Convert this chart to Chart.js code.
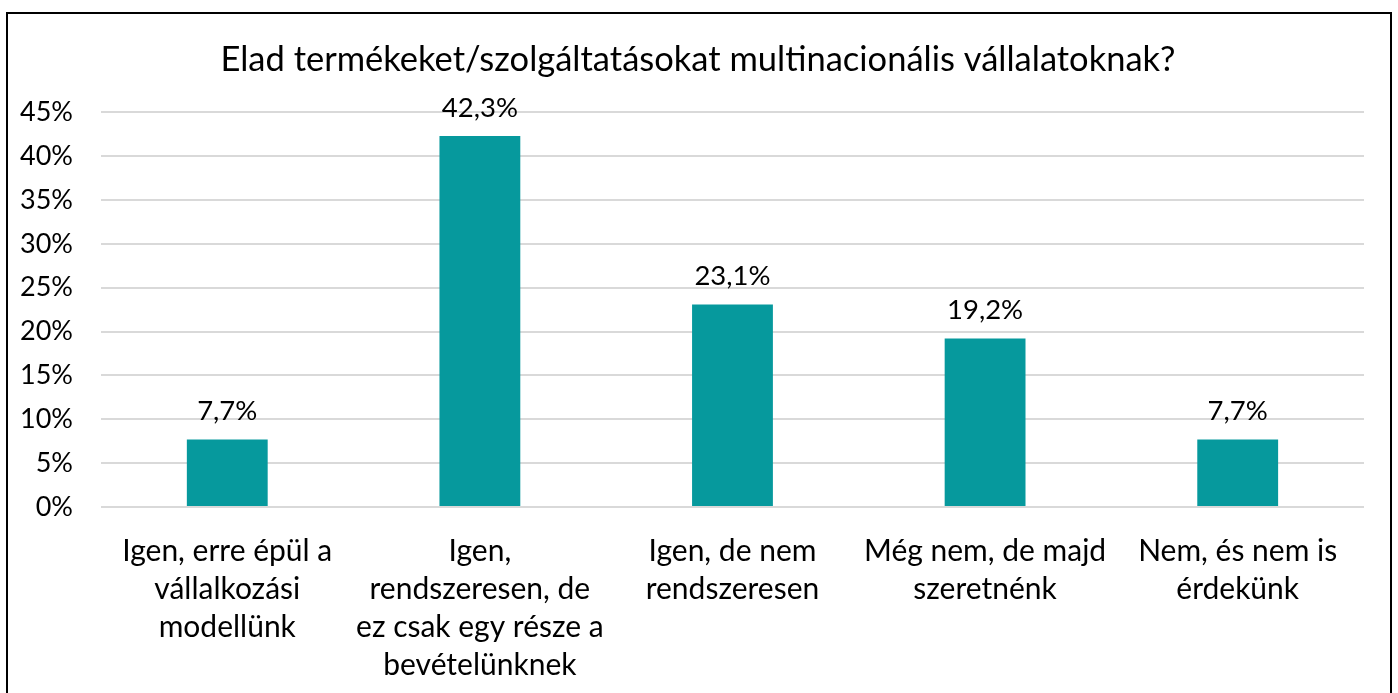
<!DOCTYPE html>
<html>
<head>
<meta charset="utf-8">
<script src="https://cdn.jsdelivr.net/npm/chart.js@4.4.0/dist/chart.umd.min.js"></script>
<style>
html,body{margin:0;padding:0;background:#fff;}
#wrap{position:relative;width:1398px;height:693px;overflow:hidden;}
#frame{position:absolute;left:6px;top:12px;width:1382px;height:700px;border:2px solid #000;pointer-events:none;}
canvas{position:absolute;left:0;top:0;}
</style>
</head>
<body>
<div id="wrap">
<canvas id="c" width="1398" height="693"></canvas>
<div id="frame"></div>
</div>
<script>
const chartTitle = "Elad termékeket/szolgáltatásokat multinacionális vállalatoknak?";
const categories = [
  ["Igen, erre épül a", "vállalkozási", "modellünk"],
  ["Igen,", "rendszeresen, de", "ez csak egy része a", "bevételünknek"],
  ["Igen, de nem", "rendszeresen"],
  ["Még nem, de majd", "szeretnénk"],
  ["Nem, és nem is", "érdekünk"]
];
const values = [7.7, 42.3, 23.1, 19.2, 7.7];
const yTicks = [0, 5, 10, 15, 20, 25, 30, 35, 40, 45];

const FONT = "Lato, 'Open Sans', sans-serif";

const labelPlugin = {
  id: 'valueLabels',
  afterLayout(chart) {
    const t = chart.titleBlock;
    if (t) { t.left += 40; t.width = t.right - t.left; }
  },
  afterDatasetsDraw(chart) {
    const ctx = chart.ctx;
    const meta = chart.getDatasetMeta(0);
    ctx.save();
    ctx.font = "27.5px " + FONT;
    ctx.fillStyle = "#000";
    ctx.textAlign = "center";
    ctx.textBaseline = "middle";
    meta.data.forEach((bar, i) => {
      const v = values[i];
      ctx.fillText(v.toFixed(1).replace('.', ',') + '%', bar.x, bar.y - 28);
    });
    ctx.restore();
  }
};

new Chart(document.getElementById('c'), {
  type: 'bar',
  data: {
    labels: categories,
    datasets: [{
      data: values,
      backgroundColor: '#06999D',
      categoryPercentage: 1,
      barPercentage: 0.32
    }]
  },
  options: {
    responsive: false,
    animation: false,
    devicePixelRatio: 1,
    layout: { padding: { left: -8, right: 34, top: 39, bottom: -16 } },
    plugins: {
      legend: { display: false },
      tooltip: { enabled: false },
      title: {
        display: true,
        text: chartTitle,
        color: '#000',
        font: { family: FONT, size: 34.5, weight: 'normal', lineHeight: 1.2 },
        padding: { top: 0, bottom: 32 }
      }
    },
    scales: {
      x: {
        grid: { display: false, drawTicks: false },
        border: { display: false },
        ticks: {
          color: '#000',
          font: { family: FONT, size: 30, lineHeight: 1.267 },
          padding: 25,
          maxRotation: 0,
          autoSkip: false
        }
      },
      y: {
        min: 0,
        max: 45,
        afterBuildTicks(axis) { axis.ticks = yTicks.map(v => ({ value: v })); },
        grid: { color: '#d9d9d9', lineWidth: 2, drawTicks: false },
        border: { display: false },
        ticks: {
          color: '#000',
          font: { family: FONT, size: 27 },
          padding: 28,
          callback: v => v + '%'
        }
      }
    }
  },
  plugins: [labelPlugin]
});
</script>
</body>
</html>
